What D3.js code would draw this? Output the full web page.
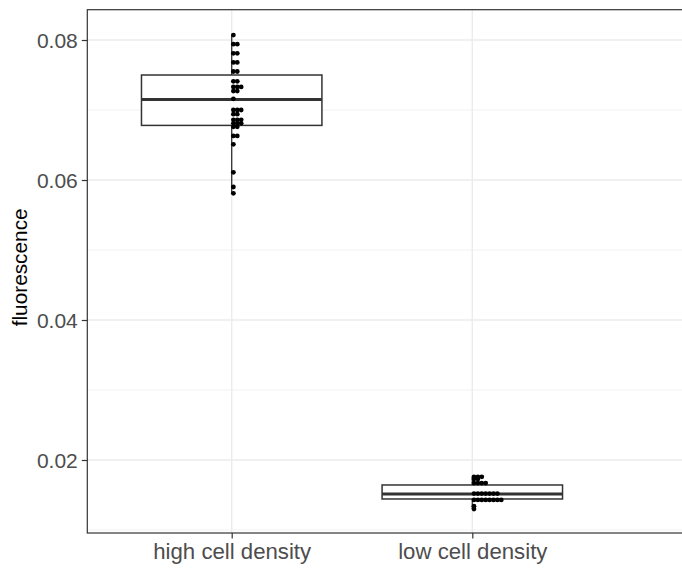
<!DOCTYPE html>
<html>
<head>
<meta charset="utf-8">
<script src="https://cdn.jsdelivr.net/npm/d3@7"></script>
<style>
  html, body { margin: 0; padding: 0; background: #fff; }
  svg { display: block; font-family: "Liberation Sans", Arial, Helvetica, sans-serif; }
</style>
</head>
<body>
<svg id="chart" width="682" height="572"></svg>
<script>
// Groups along the x axis
const groups = ["high cell density", "low cell density"];

// Individual fluorescence measurements per group (repeated values stack sideways)
const highDensity = [
  0.0807,
  0.0794, 0.0794,
  0.0781, 0.0781,
  0.0768, 0.0768,
  0.0755, 0.0755,
  0.0741, 0.0741,
  0.0733, 0.0733, 0.0733,
  0.0727, 0.0727,
  0.0716,
  0.0700, 0.0700, 0.0700,
  0.0694, 0.0694,
  0.0686, 0.0686, 0.0686,
  0.0681, 0.0681, 0.0681,
  0.0676, 0.0676,
  0.0663, 0.0663,
  0.0651,
  0.0611,
  0.0590,
  0.0581
];
const lowDensity = [
  0.0176, 0.0176, 0.0176,
  0.0173, 0.0173,
  0.0167, 0.0167, 0.0167, 0.0167,
  0.0152, 0.0152, 0.0152, 0.0152, 0.0152, 0.0152, 0.0152,
  0.0143, 0.0143, 0.0143, 0.0143, 0.0143, 0.0143, 0.0143, 0.0143,
  0.0134,
  0.0130
];

// Box summaries: lower whisker, first quartile, median, third quartile, upper whisker
const boxLower  = [0.0581, 0.0130];
const boxQ1     = [0.0678, 0.01443];
const boxMedian = [0.0715, 0.01514];
const boxQ3     = [0.0750, 0.01643];
const boxUpper  = [0.0807, 0.0176];

// Axis breaks
const yMajor = [0.02, 0.04, 0.06, 0.08];
const yMinor = [0.01, 0.03, 0.05, 0.07];
const yTickLabels = ["0.02", "0.04", "0.06", "0.08"];
const yTitle = "fluorescence";

const values = [highDensity, lowDensity];

const svg = d3.select("#chart");
const panel = { left: 87.3, top: 9.7, bottom: 533 };

const x = d3.scalePoint().domain(groups).range([231.7, 472.3]);
const step = x(groups[1]) - x(groups[0]);
const panelRight = x(groups[0]) + 2.6 * step;   // panel runs past the right edge

const y = d3.scaleLinear().domain([0.00957, 0.08433]).range([panel.bottom, panel.top]);

const grid = svg.append("g");
// minor horizontal grid
grid.selectAll("line.minor").data(yMinor).join("line")
  .attr("x1", panel.left).attr("x2", panelRight)
  .attr("y1", d => y(d)).attr("y2", d => y(d))
  .attr("stroke", "#EBEBEB").attr("stroke-width", 0.7);
// major horizontal grid
grid.selectAll("line.majory").data(yMajor).join("line")
  .attr("x1", panel.left).attr("x2", panelRight)
  .attr("y1", d => y(d)).attr("y2", d => y(d))
  .attr("stroke", "#EBEBEB").attr("stroke-width", 1.4);
// major vertical grid at each group
grid.selectAll("line.majorx").data(groups).join("line")
  .attr("x1", d => x(d)).attr("x2", d => x(d))
  .attr("y1", panel.top).attr("y2", panel.bottom)
  .attr("stroke", "#EBEBEB").attr("stroke-width", 1.4);

// Boxes and whiskers
const boxHalf = 0.375 * step;
const boxes = svg.append("g");
groups.forEach((g, i) => {
  const cx = x(g);
  const b = boxes.append("g").attr("stroke", "#333333").attr("fill", "none");
  b.append("line").attr("x1", cx).attr("x2", cx)
    .attr("y1", y(boxQ3[i])).attr("y2", y(boxUpper[i])).attr("stroke-width", 1.3);
  b.append("line").attr("x1", cx).attr("x2", cx)
    .attr("y1", y(boxQ1[i])).attr("y2", y(boxLower[i])).attr("stroke-width", 1.3);
  b.append("rect")
    .attr("x", cx - boxHalf).attr("width", 2 * boxHalf)
    .attr("y", y(boxQ3[i])).attr("height", y(boxQ1[i]) - y(boxQ3[i]))
    .attr("fill", "#fff").attr("stroke-width", 1.5);
  b.append("line")
    .attr("x1", cx - boxHalf).attr("x2", cx + boxHalf)
    .attr("y1", y(boxMedian[i])).attr("y2", y(boxMedian[i]))
    .attr("stroke-width", 3.2);
});

// Dot plot: dots sharing a value stack to the right of the group centre
const dotR = 2.4, dotStep = 3.9;
const dots = [];
groups.forEach((g, i) => {
  const seen = new Map();
  values[i].forEach(v => {
    const k = seen.get(v) || 0;
    seen.set(v, k + 1);
    dots.push({ g, v, k });
  });
});
svg.append("g").selectAll("circle").data(dots).join("circle")
  .attr("cx", d => x(d.g) + dotR * 0.7 + d.k * dotStep)
  .attr("cy", d => y(d.v))
  .attr("r", dotR)
  .attr("fill", "#000");

// Panel border
svg.append("rect")
  .attr("x", panel.left).attr("y", panel.top)
  .attr("width", panelRight - panel.left).attr("height", panel.bottom - panel.top)
  .attr("fill", "none").attr("stroke", "#333333").attr("stroke-width", 1.2);

// Y axis
const yAxis = svg.append("g")
  .attr("transform", `translate(${panel.left},0)`)
  .call(d3.axisLeft(y).tickValues(yMajor).tickSize(5.5).tickPadding(4)
    .tickFormat((d, i) => yTickLabels[i]));
yAxis.select(".domain").remove();
yAxis.selectAll(".tick line").attr("stroke", "#333333").attr("stroke-width", 1.2);
yAxis.selectAll(".tick text").attr("fill", "#4D4D4D")
  .style("font-size", "21px").attr("dy", "0.36em");

// X axis
const xAxis = svg.append("g")
  .attr("transform", `translate(0,${panel.bottom})`)
  .call(d3.axisBottom(x).tickSize(5.5).tickPadding(5));
xAxis.select(".domain").remove();
xAxis.selectAll(".tick line").attr("stroke", "#333333").attr("stroke-width", 1.2);
xAxis.selectAll(".tick text").attr("fill", "#4D4D4D")
  .style("font-size", "22.2px");

// Y axis title
svg.append("text")
  .attr("transform", `translate(27,${(panel.top + panel.bottom) / 2 - 4}) rotate(-90)`)
  .attr("text-anchor", "middle")
  .attr("fill", "#000")
  .style("font-size", "20.8px")
  .text(yTitle);
</script>
</body>
</html>
